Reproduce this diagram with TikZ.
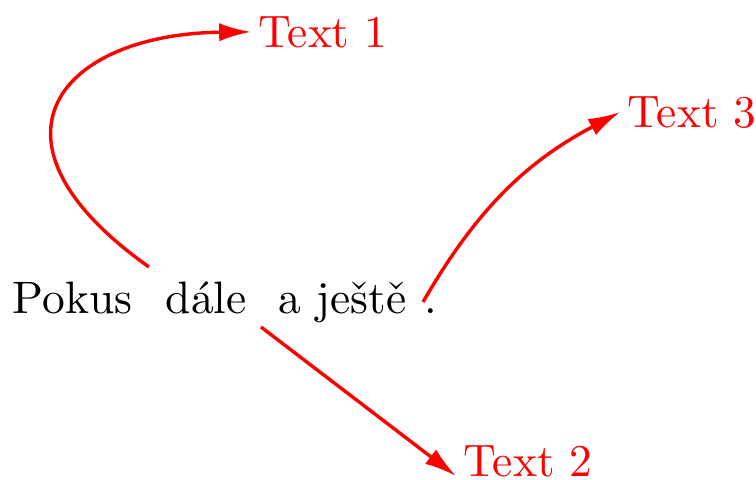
\documentclass[tikz,border=0pt]{standalone}
\usetikzlibrary{arrows.meta,calc}
\begin{document}
\begin{tikzpicture}[x=0.22pt,y=-0.22pt,
  word/.style={anchor=base west,inner sep=0pt,text=black},
  label/.style={anchor=base west,inner sep=1.5pt,text=red},
  pointer/.style={draw=red,line width=0.75pt,-{Latex[length=7pt,width=4pt]}}]
\useasboundingbox (0,0) rectangle (756,479);
\node[word] (w1) at (12,313) {Pokus};
\node[word] (w2) at (165,313) {dále};
\node[word] (w3) at (278,313) {a ještě};
\node[word] (w4) at (424,313) {.};
\node[label] (t1) at (251,47) {Text 1};
\node[label] (t2) at (456,476) {Text 2};
\node[label] (t3) at (620,127) {Text 3};
\coordinate (m1) at (149,267);
\coordinate (m2) at (261,327);
\coordinate (m3) at (423,302);
\draw[pointer] (m1) .. controls (-30,140) and (60,34) .. (t1.west);
\draw[pointer] (m2) -- (t2.base west);
\draw[pointer] (m3) to[bend left=16] (t3.west);
\end{tikzpicture}
\end{document}
